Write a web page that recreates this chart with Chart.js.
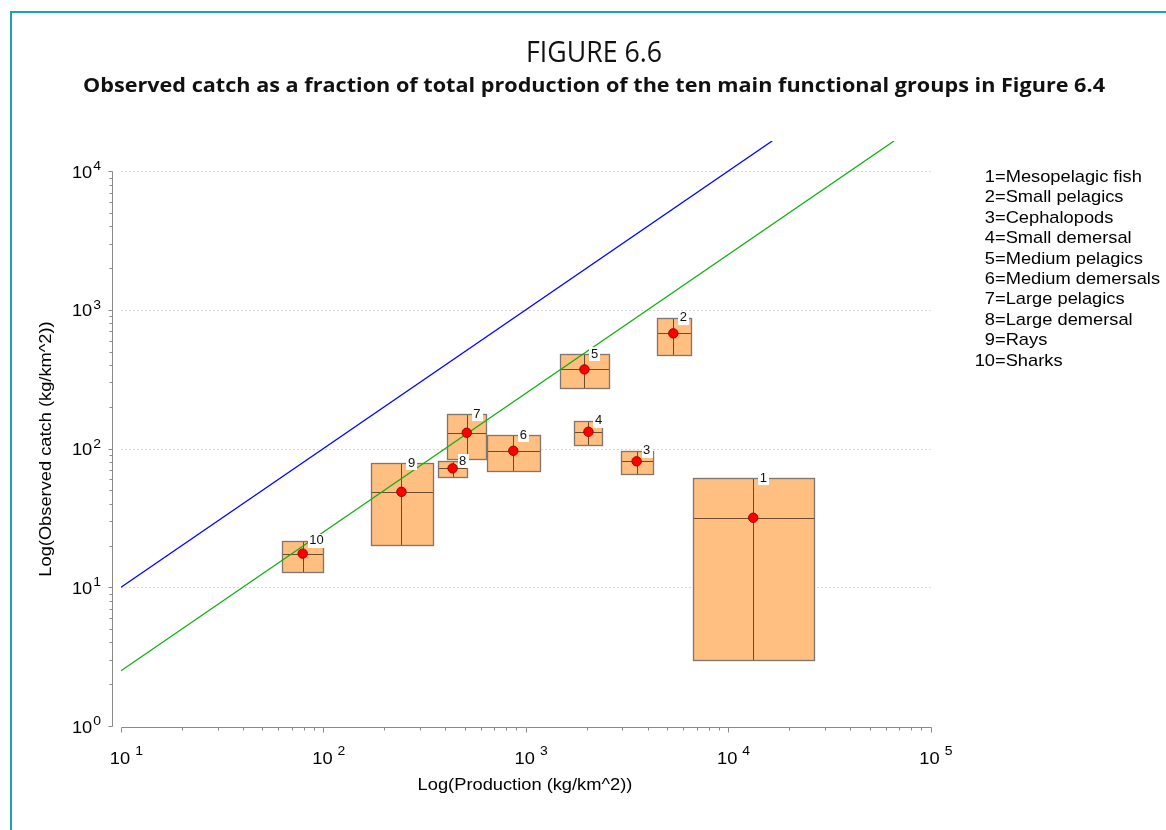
<!DOCTYPE html>
<html lang="en">
<head>
<meta charset="utf-8">
<title>Figure 6.6</title>
<script src="https://cdn.jsdelivr.net/npm/chart.js@4.4.1/dist/chart.umd.min.js"></script>
<style>
  html, body { margin: 0; padding: 0; background: #fff; }
  #lienzo { position: relative; width: 1166px; height: 830px; overflow: hidden; }
  #marco {
    position: absolute; left: 10px; top: 11px; right: -4px; bottom: -4px;
    border-left: 2px solid #1fa3a3; border-top: 2px solid #1fa3a3;
  }
  #grafico { position: absolute; left: 0; top: 0; }
</style>
</head>
<body>
<div id="lienzo">
  <div id="marco"></div>
  <canvas id="grafico" width="1166" height="830"></canvas>
</div>
<script>
/* ---- Datos ---- */
const grupos      = [1, 2, 3, 4, 5, 6, 7, 8, 9, 10];
const nombres     = ["Mesopelagic fish", "Small pelagics", "Cephalopods", "Small demersal",
                     "Medium pelagics", "Medium demersals", "Large pelagics", "Large demersal",
                     "Rays", "Sharks"];
// produccion (kg/km^2): minimo, maximo y valor central de cada caja
const prodMin     = [6720, 4430, 2950, 1740, 1480, 645, 410, 370, 172, 62.7];
const prodMax     = [26500, 6530, 4250, 2380, 2570, 1170, 634, 514, 347, 100];
const prodMedia   = [13300, 5360, 3530, 2040, 1950, 868, 511, 435, 243, 79];
// captura observada (kg/km^2)
const capturaMin  = [2.98, 472, 65.5, 105.5, 272, 68.5, 83.6, 62.3, 20.2, 12.9];
const capturaMax  = [61, 876, 96.4, 158.6, 478, 124.5, 176.4, 81.3, 78.2, 21.7];
const capturaMedia= [31.7, 677, 80.9, 132.2, 372, 96.4, 130, 72, 48.8, 17.5];
// rectas de referencia: extremos (x, y)
const lineaAzulX  = [10, 16500];
const lineaAzulY  = [10, 16500];
const lineaVerdeX = [10, 66000];
const lineaVerdeY = [2.5, 16500];
// etiquetas de los ejes (exponentes de 10)
const expX        = [1, 2, 3, 4, 5];
const expY        = [0, 1, 2, 3, 4];

const FUENTE = "'Liberation Sans', Arial, sans-serif";
const ANCHO  = 1.075; // el original tiene el texto algo mas ancho

/* ---- Helpers ---- */
function px(v) { return Math.round(v) + 0.5; }

// texto ensanchado horizontalmente
function textoAncho(ctx, txt, x, y, alinear) {
  const w = ctx.measureText(txt).width * ANCHO;
  let x0 = x;
  if (alinear === "center") x0 = x - w / 2;
  if (alinear === "right")  x0 = x - w;
  ctx.save();
  ctx.textAlign = "left";
  ctx.translate(x0, y);
  ctx.scale(ANCHO, 1);
  ctx.fillText(txt, 0, 0);
  ctx.restore();
  return w;
}

function dibujarTickX(ctx, xc, exp) {
  ctx.textBaseline = "alphabetic";
  ctx.font = "17px " + FUENTE;
  const w = ctx.measureText("10").width * ANCHO;
  const x0 = xc - 1 - w / 2;
  textoAncho(ctx, "10", x0, 764, "left");
  ctx.font = "13px " + FUENTE;
  textoAncho(ctx, String(exp), x0 + w + 5, 755, "left");
}

function dibujarTickY(ctx, yc, exp) {
  ctx.textBaseline = "alphabetic";
  ctx.font = "13px " + FUENTE;
  const xDer = 101;
  const wExp = textoAncho(ctx, String(exp), xDer, yc - 1, "right");
  ctx.font = "17px " + FUENTE;
  textoAncho(ctx, "10", xDer - wExp - 1, yc + 6.5, "right");
}

/* ---- Plugin: cajas, ejes y textos ---- */
const pluginFigura = {
  id: "figura",
  beforeDatasetsDraw(chart) {
    const { ctx, chartArea: a, scales: { x, y } } = chart;
    ctx.save();
    // rejilla punteada
    ctx.strokeStyle = "#d6d6d6";
    ctx.lineWidth = 1;
    ctx.setLineDash([2, 2]);
    expY.forEach(e => {
      if (e === 0) return;
      const py = px(y.getPixelForValue(Math.pow(10, e)));
      ctx.beginPath();
      ctx.moveTo(a.left, py);
      ctx.lineTo(a.right, py);
      ctx.stroke();
    });
    ctx.setLineDash([]);

    // cajas con cruz
    grupos.forEach((g, i) => {
      const x1 = px(x.getPixelForValue(prodMin[i]));
      const x2 = px(x.getPixelForValue(prodMax[i]));
      const y1 = px(y.getPixelForValue(capturaMax[i]));
      const y2 = px(y.getPixelForValue(capturaMin[i]));
      const xc = px(x.getPixelForValue(prodMedia[i]));
      const yc = px(y.getPixelForValue(capturaMedia[i]));
      ctx.fillStyle = "#ffbf80";
      ctx.fillRect(x1, y1, x2 - x1, y2 - y1);
      ctx.strokeStyle = "#6e4a2a";
      ctx.lineWidth = 1;
      ctx.beginPath();
      ctx.moveTo(x1, yc); ctx.lineTo(x2, yc);
      ctx.moveTo(xc, y1); ctx.lineTo(xc, y2);
      ctx.stroke();
      ctx.strokeStyle = "#7d756e";
      ctx.lineWidth = 1.3;
      ctx.strokeRect(x1, y1, x2 - x1, y2 - y1);
    });
    ctx.restore();
  },
  afterDatasetsDraw(chart) {
    const { ctx, scales: { x, y } } = chart;
    ctx.save();
    ctx.font = "13px " + FUENTE;
    ctx.textBaseline = "alphabetic";
    ctx.textAlign = "left";
    grupos.forEach((g, i) => {
      const xc = x.getPixelForValue(prodMedia[i]);
      const top = y.getPixelForValue(capturaMax[i]);
      const txt = String(g);
      const w = ctx.measureText(txt).width;
      ctx.fillStyle = "#ffffff";
      ctx.fillRect(Math.round(xc + 5), Math.round(top - 7), Math.ceil(w + 3), 14);
      ctx.fillStyle = "#111";
      ctx.fillText(txt, xc + 6.5, top + 3.5);
    });
    ctx.restore();
  },
  afterDraw(chart) {
    const { ctx, scales: { x, y } } = chart;
    ctx.save();

    // eje Y (separado del area)
    ctx.strokeStyle = "#8a8a8a";
    ctx.lineWidth = 1;
    const ejeYx = 112.5;
    ctx.beginPath();
    ctx.moveTo(ejeYx, px(y.getPixelForValue(1e4)));
    ctx.lineTo(ejeYx, px(y.getPixelForValue(1)));
    for (let e = 0; e <= 4; e++) {
      for (let m = 1; m <= 9; m++) {
        if (e === 4 && m > 1) break;
        const py = px(y.getPixelForValue(m * Math.pow(10, e)));
        ctx.moveTo(ejeYx, py);
        ctx.lineTo(ejeYx - (m === 1 ? 4 : 3), py);
      }
    }
    ctx.stroke();

    // eje X
    const ejeXy = 727.5;
    ctx.beginPath();
    ctx.moveTo(px(x.getPixelForValue(10)), ejeXy);
    ctx.lineTo(px(x.getPixelForValue(1e5)), ejeXy);
    for (let e = 1; e <= 5; e++) {
      for (let m = 1; m <= 9; m++) {
        if (e === 5 && m > 1) break;
        const pxx = px(x.getPixelForValue(m * Math.pow(10, e)));
        ctx.moveTo(pxx, ejeXy);
        ctx.lineTo(pxx, ejeXy + (m === 1 ? 5 : 3));
      }
    }
    ctx.stroke();

    // etiquetas de ticks
    ctx.fillStyle = "#000";
    expX.forEach(e => dibujarTickX(ctx, x.getPixelForValue(Math.pow(10, e)), e));
    expY.forEach(e => dibujarTickY(ctx, y.getPixelForValue(Math.pow(10, e)), e));

    // titulos de ejes
    ctx.font = "17px " + FUENTE;
    ctx.textBaseline = "middle";
    textoAncho(ctx, "Log(Production (kg/km^2))", 525, 785, "center");
    ctx.save();
    ctx.translate(46, 449);
    ctx.rotate(-Math.PI / 2);
    textoAncho(ctx, "Log(Observed catch (kg/km^2))", 0, 0, "center");
    ctx.restore();

    // leyenda de grupos
    ctx.textBaseline = "alphabetic";
    grupos.forEach((g, i) => {
      const base = 182 + i * 20.4;
      textoAncho(ctx, String(g), 995, base, "right");
      textoAncho(ctx, "=" + nombres[i], 995, base, "left");
    });

    // titulo y subtitulo (fuente condensada)
    ctx.fillStyle = "#111";
    ctx.textAlign = "center";
    ctx.textBaseline = "alphabetic";
    ctx.font = "29px 'Open Sans', sans-serif";
    let w = ctx.measureText("FIGURE 6.6").width;
    ctx.save();
    ctx.translate(594, 62);
    ctx.scale(136 / w, 1);
    ctx.fillText("FIGURE 6.6", 0, 0);
    ctx.restore();

    const sub = "Observed catch as a fraction of total production of the ten main functional groups in Figure 6.4";
    ctx.font = "bold 20px 'Open Sans', sans-serif";
    w = ctx.measureText(sub).width;
    ctx.save();
    ctx.translate(594, 92);
    ctx.scale(1022 / w, 1);
    ctx.fillText(sub, 0, 0);
    ctx.restore();

    ctx.restore();
  }
};

/* ---- Grafico ---- */
const puntos = prodMedia.map((v, i) => ({ x: v, y: capturaMedia[i] }));
const rectaAzul = lineaAzulX.map((v, i) => ({ x: v, y: lineaAzulY[i] }));
const rectaVerde = lineaVerdeX.map((v, i) => ({ x: v, y: lineaVerdeY[i] }));

new Chart(document.getElementById("grafico"), {
  type: "scatter",
  plugins: [pluginFigura],
  data: {
    datasets: [
      {
        label: "Grupos",
        data: puntos,
        pointRadius: 4.7,
        backgroundColor: "#ff0000",
        borderColor: "#a00000",
        borderWidth: 1,
        order: 0,
      },
      {
        label: "1:1",
        data: rectaAzul,
        showLine: true,
        pointRadius: 0,
        borderColor: "#0000ff",
        borderWidth: 1.3,
        order: 1,
      },
      {
        label: "1:4",
        data: rectaVerde,
        showLine: true,
        pointRadius: 0,
        borderColor: "#10b010",
        borderWidth: 1.3,
        order: 2,
      },
    ],
  },
  options: {
    responsive: false,
    devicePixelRatio: 1,
    animation: false,
    events: [],
    layout: { padding: { left: 121, right: 235.5, top: 141, bottom: 104 } },
    plugins: { legend: { display: false }, tooltip: { enabled: false }, title: { display: false } },
    scales: {
      x: { type: "logarithmic", min: 10, max: 100000, display: false },
      y: { type: "logarithmic", min: 1, max: 16500, display: false },
    },
  },
});
</script>
</body>
</html>
